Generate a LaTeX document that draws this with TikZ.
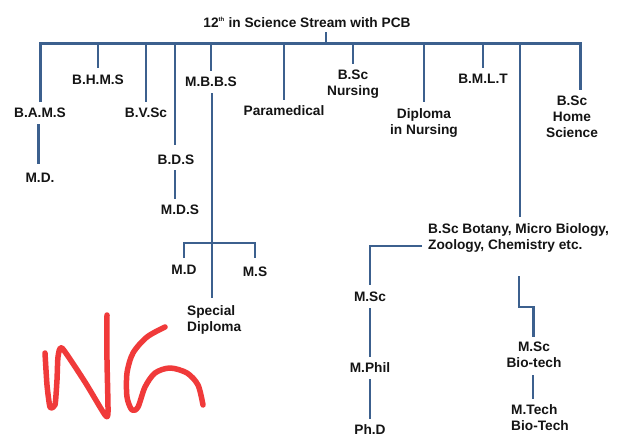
\documentclass[tikz,border=0pt]{standalone}
\usepackage{fontspec}
\setmainfont{Liberation Sans}
\begin{document}
\begin{tikzpicture}[x=1pt,y=-1pt,
  lbl/.style={inner sep=0pt, anchor=north, align=center, text=black!92,
    font=\fontsize{13.7}{16}\selectfont\bfseries},
  conn/.style={draw=linecol, line width=2.4pt},
  busline/.style={draw=linecol, line width=3pt, line join=miter},
  ng/.style={draw=ngred, line width=5.5pt, line cap=round, line join=round}]
\definecolor{linecol}{RGB}{60,96,142}
\definecolor{ngred}{RGB}{240,58,58}
\fill[white] (0,0) rectangle (618,444);
\useasboundingbox (0,0) rectangle (618,444);

% title and main bus
\node[lbl] (title) at (307,17) {12\textsuperscript{\fontsize{6}{6}\selectfont th} in Science Stream with PCB};
\coordinate (stem) at (326,44);
\coordinate (busR) at (580,44);

% first level
\node[lbl] (bams) at (40,108) {B.A.M.S};
\node[lbl] (bhms) at (98,75) {B.H.M.S};
\node[lbl] (bvsc) at (146,108) {B.V.Sc};
\node[lbl] (bds) at (176,155) {B.D.S};
\node[lbl] (mbbs) at (211,77) {M.B.B.S};
\node[lbl] (para) at (284,105) {Paramedical};
\node[lbl] (bscn) at (353,70) {B.Sc\\Nursing};
\node[lbl] (dipn) at (424,108) {Diploma\\in Nursing};
\node[lbl] (bmlt) at (483,74) {B.M.L.T};
\node[lbl] (home) at (572,96) {B.Sc\\Home\\Science};
\node[lbl, anchor=north west, align=left] (bscb) at (428,223) {B.Sc Botany, Micro Biology,\\ Zoology, Chemistry etc.};

% second level
\node[lbl] (md1) at (40,173) {M.D.};
\node[lbl] (mds) at (180,205) {M.D.S};
\node[lbl] (md2) at (184,265) {M.D};
\node[lbl] (ms) at (255,267) {M.S};
\node[lbl, anchor=north west, align=left] (spec) at (187,305) {Special\\Diploma};
\node[lbl] (msc1) at (370,292) {M.Sc};
\node[lbl] (mphil) at (370,362) {M.Phil};
\node[lbl] (phd) at (370,424) {Ph.D};
\node[lbl] (msc2) at (534,342) {M.Sc\\Bio-tech};
\node[lbl, anchor=north west, align=left] (mtech) at (511,404) {M.Tech\\ Bio-Tech};

% bus
\draw[busline] ([yshift=6pt]bams.north) |- (busR) -- ([yshift=6pt]home.north -| busR);
\draw[conn] (stem) -- (stem |- title.south) [shorten >=5pt];
\draw[conn, shorten >=7pt] (bhms.north |- stem) -- (bhms.north);
\draw[conn, shorten >=6pt] (bvsc.north |- stem) -- (bvsc.north);
\draw[conn, shorten >=10pt] ([xshift=-1pt]bds.north |- stem) -- ([xshift=-1pt]bds.north);
\draw[conn, shorten >=6pt] (mbbs.north |- stem) -- (mbbs.north);
\draw[conn, shorten >=5pt] (para.north |- stem) -- (para.north);
\draw[conn, shorten >=6pt] (bscn.north |- stem) -- (bscn.north);
\draw[conn, shorten >=6pt] (dipn.north |- stem) -- (dipn.north);
\draw[conn, shorten >=6pt] (bmlt.north |- stem) -- (bmlt.north);
\coordinate (rv) at (520,44);
\draw[conn, shorten >=6pt] (rv) -- (rv |- bscb.north);

% lower links
\draw[conn, shorten <=6pt, shorten >=9pt] ([xshift=-1.5pt]bams.south) -- ([xshift=-1.5pt]md1.north);
\draw[conn, shorten <=5pt, shorten >=6pt] ([xshift=-1pt]bds.south) -- ([xshift=-1pt]bds.south |- mds.north);
\draw[conn, shorten <=6pt, shorten >=7pt] ([xshift=1pt]mbbs.south) -- ([xshift=1pt]mbbs.south |- spec.north);
\coordinate (mj) at (212,243);
\draw[conn] ([yshift=7pt]md2.north) |- (mj) -| ([yshift=9pt]ms.north);

\coordinate (bl) at (422,246);
\draw[conn] (bl) -| ([yshift=7pt]msc1.north);
\draw[conn, shorten <=6pt, shorten >=5pt] (msc1.south) -- (mphil.north);
\draw[conn, shorten <=7pt, shorten >=5pt] (mphil.south) -- (phd.north);

\coordinate (br) at (519,276);
\coordinate (bk) at (519,307);
\draw[conn] (br) -- (bk) -| ([yshift=5pt,xshift=-0.5pt]msc2.north);
\draw[conn, shorten <=7pt, shorten >=5pt] ([xshift=-1pt]msc2.south) -- ([xshift=-1pt]msc2.south |- mtech.north);

% red NG scribble
\draw[ng] plot[smooth, tension=0.35] coordinates {(45,353) (47,385) (50,407) (55,405) (57,380) (58,357) (62,348) (85,382) (105,415) (108,412) (107,360) (107,315)};
\draw[ng] plot[smooth, tension=0.5] coordinates {(165,327) (147,337) (133,353) (127,373) (127,397) (132,410) (138,407) (145,387) (155,373) (170,368) (187,373) (198,385) (203,405)};
\end{tikzpicture}
\end{document}
